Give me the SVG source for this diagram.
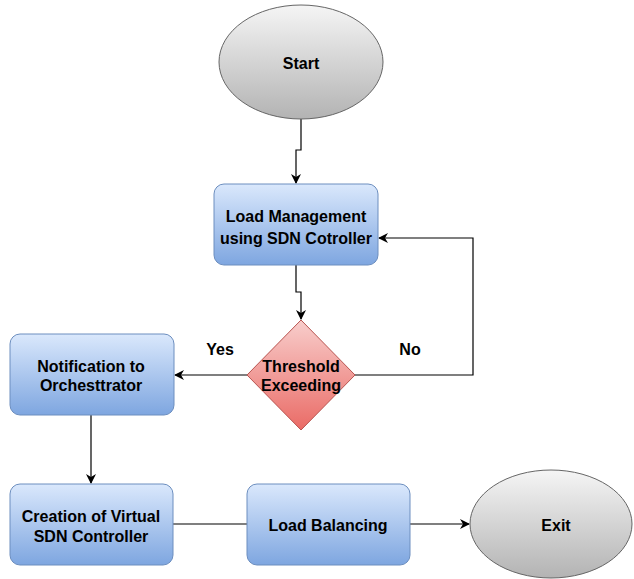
<svg xmlns="http://www.w3.org/2000/svg" width="634" height="579" viewBox="0 0 634 579">
  <style>
    .proc { fill: url(#blueGrad); stroke: #6c8ebf; stroke-width: 1; }
    .term { fill: url(#grayGrad); stroke: #666666; stroke-width: 1; }
    .dec { fill: url(#redGrad); stroke: #b85450; stroke-width: 1; }
    .lbl { font-family: "Liberation Sans", Arial, sans-serif; font-size: 16px; font-weight: bold; fill: #000; text-anchor: middle; }
    .edge { fill: none; stroke: #000; stroke-width: 1.2; }
    .arrow { marker-end: url(#head); }
  </style>
  <defs>
    <linearGradient id="blueGrad" x1="0" y1="0" x2="0" y2="1">
      <stop offset="0" stop-color="#dae8fc"/>
      <stop offset="1" stop-color="#7ea6e0"/>
    </linearGradient>
    <linearGradient id="grayGrad" x1="0" y1="0" x2="0" y2="1">
      <stop offset="0" stop-color="#f5f5f5"/>
      <stop offset="1" stop-color="#b3b3b3"/>
    </linearGradient>
    <linearGradient id="redGrad" x1="0" y1="0" x2="0" y2="1">
      <stop offset="0" stop-color="#f8cecc"/>
      <stop offset="1" stop-color="#ea6b66"/>
    </linearGradient>
    <marker id="head" viewBox="0 0 10 10" refX="9" refY="5" markerWidth="10" markerHeight="10" markerUnits="userSpaceOnUse" orient="auto">
      <path d="M0,0 L10,5 L0,10 L3,5 z" fill="#000"/>
    </marker>
  </defs>

  <g id="connectors">
    <path class="edge arrow" d="M301,118 V150 H296 V183"/>
    <path class="edge arrow" d="M296,265 V292 H301 V319"/>
    <path class="edge arrow" d="M355,375 H473 V238 H379"/>
    <path class="edge arrow" d="M247,375 H175"/>
    <path class="edge arrow" d="M91,415 V483"/>
    <path class="edge" d="M173,524 H247"/>
    <path class="edge arrow" d="M410,524 H469"/>
  </g>

  <g id="start">
    <ellipse class="term" cx="301" cy="62" rx="82" ry="57"/>
    <text class="lbl" x="301" y="69">Start</text>
  </g>

  <g id="load-management">
    <rect class="proc" x="214" y="184" width="164" height="81" rx="10"/>
    <text class="lbl" x="296" y="222">Load Management</text>
    <text class="lbl" x="296" y="244">using SDN Cotroller</text>
  </g>

  <g id="threshold">
    <path class="dec" d="M301,320 L355,375 L301,430 L247,375 z"/>
    <text class="lbl" x="301" y="372">Threshold</text>
    <text class="lbl" x="301" y="391">Exceeding</text>
  </g>

  <g id="notification">
    <rect class="proc" x="10" y="334" width="164" height="81" rx="10"/>
    <text class="lbl" x="91" y="372">Notification to</text>
    <text class="lbl" x="91" y="391">Orchesttrator</text>
  </g>

  <g id="creation">
    <rect class="proc" x="10" y="484" width="163" height="81" rx="10"/>
    <text class="lbl" x="91" y="522">Creation of Virtual</text>
    <text class="lbl" x="91" y="542">SDN Controller</text>
  </g>

  <g id="load-balancing">
    <rect class="proc" x="247" y="484" width="163" height="81" rx="10"/>
    <text class="lbl" x="328" y="531">Load Balancing</text>
  </g>

  <g id="exit">
    <ellipse class="term" cx="551" cy="524" rx="81" ry="54"/>
    <text class="lbl" x="556" y="531">Exit</text>
  </g>

  <g id="edge-labels">
    <text class="lbl" x="220" y="355">Yes</text>
    <text class="lbl" x="410" y="355">No</text>
  </g>
</svg>
